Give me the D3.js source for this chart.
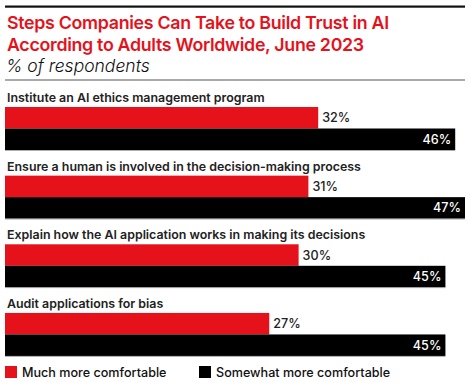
<!DOCTYPE html>
<html><head><meta charset="utf-8">
<script src="https://cdn.jsdelivr.net/npm/d3@7"></script>
<style>
html,body{margin:0;padding:0;background:#fff;}
svg{display:block;}
text{font-family:Inter, "Noto Sans", sans-serif;}
</style></head>
<body>
<svg id="chart" width="470" height="382"></svg>
<script>
const categories = [
  "Institute an AI ethics management program",
  "Ensure a human is involved in the decision-making process",
  "Explain how the AI application works in making its decisions",
  "Audit applications for bias"
];
const seriesNames = ["Much more comfortable", "Somewhat more comfortable"];
const muchMore = [32, 31, 30, 27];
const somewhatMore = [46, 47, 45, 45];
const titleLines = ["Steps Companies Can Take to Build Trust in AI", "According to Adults Worldwide, June 2023"];
const subtitle = "% of respondents";

const RED = "#e5121c", BLACK = "#000";
const svg = d3.select("#chart");

// header
svg.append("rect").attr("x",5).attr("y",5.5).attr("width",460).attr("height",2.2).attr("fill","#111");
svg.selectAll("text.title").data(titleLines).enter().append("text")
  .attr("class","title").attr("x",7).attr("y",(d,i)=>28.5+i*22.5)
  .attr("fill",RED).attr("font-size",17.8).attr("font-weight",600).attr("letter-spacing",-0.3).text(d=>d);
svg.append("text").attr("x",6).attr("y",72).attr("font-size",17.5).attr("font-style","italic")
  .attr("font-weight",300).attr("fill","#111").text(subtitle);
svg.append("rect").attr("x",5).attr("y",79.5).attr("width",460).attr("height",1).attr("fill","#555");

// scales
const x = d3.scaleLinear().domain([0,47]).range([5,465]);
const y = d3.scaleBand().domain(categories).range([107,381.6]).paddingInner(0).paddingOuter(0);
const barH = 21.5;

const groups = svg.append("g").selectAll("g.cat").data(categories).enter().append("g").attr("class","cat");

groups.append("text").attr("x",7).attr("y",d=>y(d)-5)
  .attr("font-size",12.4).attr("font-weight",600).attr("fill","#222").text(d=>d);

// red bars
groups.append("rect").attr("x",x(0)).attr("y",d=>y(d))
  .attr("width",(d,i)=>x(muchMore[i])-x(0)).attr("height",barH).attr("fill",RED);
groups.append("text").attr("x",(d,i)=>x(muchMore[i])+4).attr("y",d=>y(d)+barH/2+4.5)
  .attr("font-size",12.6).attr("font-weight",500).attr("fill","#222").text((d,i)=>muchMore[i]+"%");

// black bars
groups.append("rect").attr("x",x(0)).attr("y",d=>y(d)+barH)
  .attr("width",(d,i)=>x(somewhatMore[i])-x(0)).attr("height",barH).attr("fill",BLACK);
groups.append("rect").attr("x",x(0)).attr("y",d=>y(d)+2*barH)
  .attr("width",(d,i)=>x(somewhatMore[i])-x(0)).attr("height",0.8).attr("fill","#999");
groups.append("text").attr("x",(d,i)=>x(somewhatMore[i])-4).attr("y",d=>y(d)+barH*1.5+4.5)
  .attr("text-anchor","end").attr("font-size",12.6).attr("font-weight",500).attr("fill","#fff").text((d,i)=>somewhatMore[i]+"%");

// legend
const legX = [5, 199];
const leg = svg.selectAll("g.leg").data(seriesNames).enter().append("g").attr("class","leg")
  .attr("transform",(d,i)=>`translate(${legX[i]},366)`);
leg.append("rect").attr("width",12).attr("height",12).attr("fill",(d,i)=>i===0?RED:BLACK);
leg.append("text").attr("x",17).attr("y",10.5).attr("font-size",12.6).attr("font-weight",500).attr("fill","#111").text(d=>d);
</script>
</body></html>
